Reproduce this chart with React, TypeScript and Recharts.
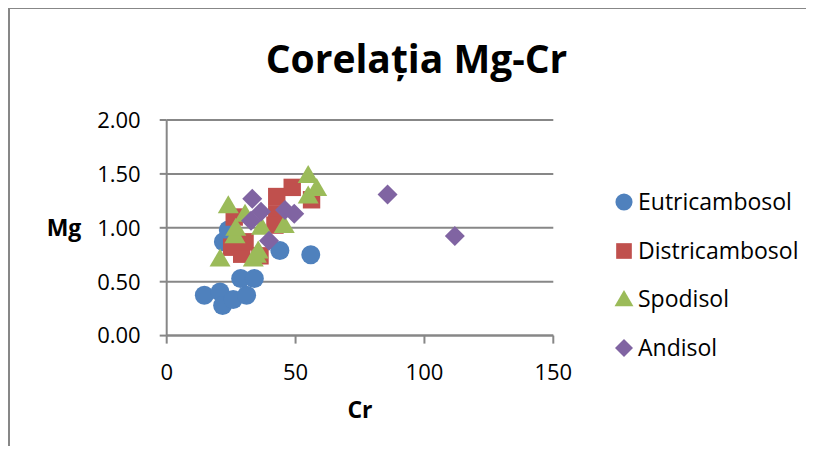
import React from 'react';
import { ScatterChart, Scatter, XAxis, YAxis, CartesianGrid, Legend } from 'recharts';

// Cr (x) and Mg (y) values for each soil type
const eutricambosolCr = [14.6, 20.7, 21.7, 25.8, 31.0, 28.7, 34.0, 43.9, 55.9, 22.0, 23.9];
const eutricambosolMg = [0.375, 0.405, 0.28, 0.335, 0.375, 0.53, 0.53, 0.79, 0.75, 0.87, 0.98];

const districambosolCr = [26.2, 25.2, 29.1, 36.2, 42.7, 42.7, 42.0, 48.7, 56.2, 30.4];
const districambosolMg = [1.1, 0.82, 0.755, 0.74, 1.29, 1.13, 1.025, 1.375, 1.26, 0.87];

const spodisolCr = [23.9, 54.9, 58.2, 54.9, 45.6, 26.5, 26.8, 20.7, 33.6, 35.5, 36.8, 30.4, 34.8];
const spodisolMg = [1.21, 1.49, 1.37, 1.3, 1.025, 0.93, 1.0, 0.715, 0.715, 0.79, 1.01, 1.13, 0.75];

const andisolCr = [33.2, 36.6, 32.7, 39.7, 45.9, 49.5, 85.7, 111.8];
const andisolMg = [1.27, 1.15, 1.065, 0.88, 1.165, 1.13, 1.31, 0.925];

const xTicks = [0, 50, 100, 150];
const yTicks = [0, 0.5, 1, 1.5, 2];

const toPoints = (xs: number[], ys: number[]) => xs.map((x, i) => ({ cr: x, mg: ys[i] }));

const FONT = '"Open Sans", sans-serif';
const AXIS_GRAY = '#878787';
const TICK_SIZE = 22;
const LABEL_SIZE = 23;

const COLORS = {
  eutri: '#4F81BD',
  distri: '#C0504D',
  spodi: '#9BBB59',
  andi: '#8064A2',
};

type MarkerKind = 'circle' | 'square' | 'triangle' | 'diamond';

function Marker({ kind, cx, cy, color, s = 1 }: { kind: MarkerKind; cx: number; cy: number; color: string; s?: number }) {
  if (kind === 'circle') return <circle cx={cx} cy={cy} r={9.5 * s} fill={color} />;
  if (kind === 'square') {
    const h = 8.7 * s;
    return <rect x={cx - h} y={cy - h} width={2 * h} height={2 * h} fill={color} />;
  }
  if (kind === 'triangle') {
    const w = 10.5 * s;
    return <polygon points={`${cx},${cy - 10 * s} ${cx + w},${cy + 8 * s} ${cx - w},${cy + 8 * s}`} fill={color} />;
  }
  const d = 10 * s;
  return <polygon points={`${cx},${cy - d} ${cx + d},${cy} ${cx},${cy + d} ${cx - d},${cy}`} fill={color} />;
}

const shapeOf = (kind: MarkerKind, color: string) => (p: any) =>
  <Marker kind={kind} cx={p.cx} cy={p.cy} color={color} />;

const SERIES: { name: string; kind: MarkerKind; color: string; data: { cr: number; mg: number }[] }[] = [
  { name: 'Eutricambosol', kind: 'circle', color: COLORS.eutri, data: toPoints(eutricambosolCr, eutricambosolMg) },
  { name: 'Districambosol', kind: 'square', color: COLORS.distri, data: toPoints(districambosolCr, districambosolMg) },
  { name: 'Spodisol', kind: 'triangle', color: COLORS.spodi, data: toPoints(spodisolCr, spodisolMg) },
  { name: 'Andisol', kind: 'diamond', color: COLORS.andi, data: toPoints(andisolCr, andisolMg) },
];

const renderLegend = () => (
  <div style={{ position: 'relative', width: 210, height: 196, fontFamily: FONT }}>
    {SERIES.map((s, i) => (
      <div key={s.name} style={{ position: 'absolute', left: 0, top: i * 48.5, height: 48, width: 210 }}>
        <svg width={20} height={48} style={{ position: 'absolute', left: 8, top: 0 }}>
          <Marker kind={s.kind} cx={10} cy={24} color={s.color} s={0.9} />
        </svg>
        <span style={{ position: 'absolute', left: 32, top: -1, lineHeight: '48px', fontSize: 23, color: '#000', whiteSpace: 'nowrap' }}>
          {s.name}
        </span>
      </div>
    ))}
  </div>
);

export default function App() {
  return (
    <div style={{ position: 'relative', width: 814, height: 454, margin: -8, background: '#fff', overflow: 'hidden', fontFamily: FONT }}>
      <div style={{ position: 'absolute', left: 8, top: 7, width: 900, height: 600, borderLeft: `2px solid ${AXIS_GRAY}`, borderTop: `2px solid ${AXIS_GRAY}` }} />
      <div style={{ position: 'absolute', left: 0, top: 38, width: 833, textAlign: 'center', fontSize: 39, fontWeight: 700, lineHeight: '39px', color: '#000', whiteSpace: 'nowrap' }}>
        Corelația Mg-Cr
      </div>
      <ScatterChart
        width={814}
        height={454}
        margin={{ top: 120, right: 260.7, bottom: 35.7, left: 46.7 }}
        style={{ position: 'absolute', left: 0, top: 0 }}
      >
        <CartesianGrid vertical={false} stroke={AXIS_GRAY} strokeWidth={2} />
        <XAxis
          type="number"
          dataKey="cr"
          domain={[0, 150]}
          ticks={xTicks}
          height={82.7}
          tickSize={8}
          tickMargin={21}
          axisLine={{ stroke: AXIS_GRAY, strokeWidth: 2 }}
          tickLine={{ stroke: AXIS_GRAY, strokeWidth: 2 }}
          tick={{ fill: '#000', fontSize: TICK_SIZE, fontFamily: FONT }}
          label={{ value: 'Cr', position: 'insideBottom', offset: 0, fill: '#000', fontSize: LABEL_SIZE, fontWeight: 700, fontFamily: FONT }}
        />
        <YAxis
          type="number"
          dataKey="mg"
          domain={[0, 2]}
          ticks={yTicks}
          width={120}
          tickSize={7}
          tickMargin={19}
          tickFormatter={(v: number) => v.toFixed(2)}
          axisLine={{ stroke: AXIS_GRAY, strokeWidth: 2 }}
          tickLine={{ stroke: AXIS_GRAY, strokeWidth: 2 }}
          tick={{ fill: '#000', fontSize: TICK_SIZE, fontFamily: FONT }}
          label={{ value: 'Mg', position: 'insideLeft', offset: 0, fill: '#000', fontSize: LABEL_SIZE, fontWeight: 700, fontFamily: FONT }}
        />
        <Legend
          layout="vertical"
          align="center"
          verticalAlign="middle"
          wrapperStyle={{ left: 606, top: 178, width: 210 }}
          content={renderLegend}
        />
        {SERIES.map((s) => (
          <Scatter
            key={s.name}
            name={s.name}
            data={s.data}
            fill={s.color}
            shape={shapeOf(s.kind, s.color)}
            isAnimationActive={false}
          />
        ))}
      </ScatterChart>
    </div>
  );
}
